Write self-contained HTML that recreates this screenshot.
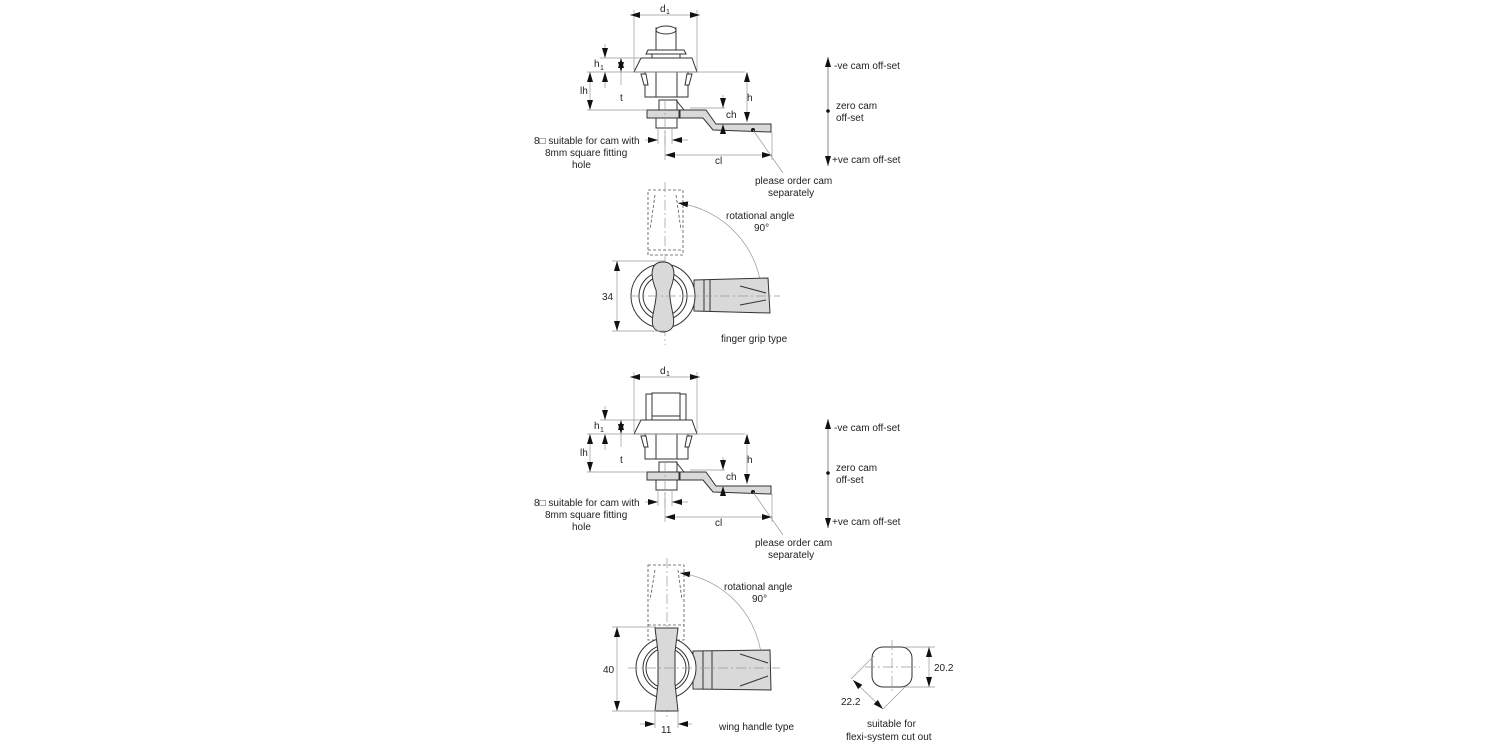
<!DOCTYPE html>
<html><head><meta charset="utf-8"><style>
html,body{margin:0;padding:0;background:#fff;width:1500px;height:750px;overflow:hidden}
svg{display:block}
text{font-family:"Liberation Sans",sans-serif;font-size:10px;fill:#222}
.o{fill:none;stroke:#333;stroke-width:1}
.f{fill:#d9d9d9;stroke:#333;stroke-width:1}
.w{fill:#fff;stroke:#333;stroke-width:1}
.d{fill:none;stroke:#999;stroke-width:0.7}
.ds{fill:none;stroke:#555;stroke-width:0.8;stroke-dasharray:3 2}
.c{fill:none;stroke:#999;stroke-width:0.7;stroke-dasharray:10 3 2 3}
</style></head><body>
<svg width="1500" height="750" viewBox="0 0 1500 750" xmlns="http://www.w3.org/2000/svg">
<defs>
<marker id="a" viewBox="0 0 10 6" refX="10" refY="3" markerWidth="10" markerHeight="6" orient="auto-start-reverse" markerUnits="userSpaceOnUse"><path d="M0,0 L10,3 L0,6z" fill="#111"/></marker>
<g id="side">
 <!-- extension lines -->
 <line class="d" x1="634" y1="10" x2="634" y2="70"/><line class="d" x1="697" y1="10" x2="697" y2="70"/>
 <line class="d" x1="630" y1="15" x2="700" y2="15" marker-start="url(#a)" marker-end="url(#a)"/>
 <!-- body -->
 <path class="w" d="M641,58 L692,58 L697,72 L634,72 Z"/>
 <rect class="w" x="645" y="72" width="43" height="25"/>
 <rect class="w" x="656" y="72" width="21" height="25"/>
 <path class="w" d="M641,74 L646,74 L648,85 L644,85 Z"/><path class="w" d="M687,74 L692,74 L689,85 L685,85 Z"/>
 <rect class="f" x="647" y="110" width="32" height="8"/>
 <rect class="w" x="659" y="100" width="18" height="10"/>
 <path class="f" d="M680,110 L706,110 L716,124 L771,124 L771,132 L713,130 L703,118 L680,118 Z"/>
 <line class="o" x1="676" y1="100" x2="684" y2="110"/>
 <rect class="w" x="656" y="118" width="21" height="10"/>
 <line class="c" x1="665" y1="100" x2="665" y2="145"/>
 <circle cx="753" cy="130" r="2" fill="#111"/>
 <!-- dims -->
 <line class="d" x1="600" y1="58" x2="640" y2="58"/><line class="d" x1="587" y1="72" x2="745" y2="72"/>
 <line class="d" x1="587" y1="110" x2="647" y2="110"/>
 <line class="d" x1="605" y1="44" x2="605" y2="58" marker-end="url(#a)"/><line class="d" x1="605" y1="72" x2="605" y2="88" marker-start="url(#a)"/>
 <text x="594" y="67">h</text><text x="600" y="70" style="font-size:7px">1</text>
 <line class="d" x1="621" y1="58" x2="621" y2="72" marker-start="url(#a)" marker-end="url(#a)"/><line class="d" x1="621" y1="72" x2="621" y2="85"/>
 <text x="620" y="101">t</text>
 <line class="d" x1="590" y1="72" x2="590" y2="110" marker-start="url(#a)" marker-end="url(#a)"/><text x="580" y="94">lh</text>
 <line class="d" x1="747" y1="72" x2="747" y2="122" marker-start="url(#a)" marker-end="url(#a)"/><text x="747" y="101">h</text>
 <line class="d" x1="690" y1="108" x2="725" y2="108"/>
 <line class="d" x1="723" y1="95" x2="723" y2="108" marker-end="url(#a)"/><line class="d" x1="723" y1="124" x2="723" y2="132" marker-start="url(#a)"/>
 <text x="726" y="118">ch</text>
 <line class="d" x1="645" y1="140" x2="658" y2="140" marker-end="url(#a)"/><line class="d" x1="672" y1="140" x2="688" y2="140" marker-start="url(#a)"/>
 <line class="d" x1="658" y1="128" x2="658" y2="144"/><line class="d" x1="672" y1="128" x2="672" y2="144"/>
 <line class="d" x1="665" y1="130" x2="665" y2="160"/><line class="d" x1="772" y1="132" x2="772" y2="160"/>
 <line class="d" x1="665" y1="155" x2="772" y2="155" marker-start="url(#a)" marker-end="url(#a)"/>
 <text x="715" y="164">cl</text>
 <line class="d" x1="753" y1="130" x2="783" y2="173"/>
 <text x="534" y="144">8□ suitable for cam with</text>
 <text x="545" y="156">8mm square fitting</text>
 <text x="572" y="168">hole</text>
 <text x="755" y="184">please order cam</text>
 <text x="768" y="196">separately</text>
 <line class="d" x1="828" y1="57" x2="828" y2="166" marker-start="url(#a)" marker-end="url(#a)" style="stroke:#555"/>
 <circle cx="828" cy="111" r="1.8" fill="#111"/>
 <text x="834" y="69">-ve cam off-set</text>
 <text x="836" y="109">zero cam</text><text x="836" y="121">off-set</text>
 <text x="832" y="163">+ve cam off-set</text>
</g>
</defs>
<use href="#side"/>
<text x="660" y="12">d</text><text x="666" y="14" style="font-size:7px">1</text>
<!-- head top view 1 -->
<rect class="w" x="656" y="28" width="20" height="24"/><ellipse class="w" cx="666" cy="30" rx="10" ry="4"/>
<path class="w" d="M648,50 L684,50 L686,54 L646,54 Z"/>
<rect class="w" x="652" y="54" width="28" height="4"/>

<g transform="translate(0,362)"><use href="#side"/></g>
<text x="660" y="374">d</text><text x="666" y="376" style="font-size:7px">1</text>
<rect class="w" x="646" y="394" width="40" height="26"/><rect class="w" x="652" y="393" width="28" height="27"/>
<rect class="w" x="652" y="416" width="28" height="4"/>

<!-- finger grip view -->
<path class="ds" d="M648,190 L683,190 L683,255 L648,255 Z M648,250 L683,250 M655,195 L650,230 M676,195 L681,230"/>
<line class="c" x1="665" y1="182" x2="665" y2="345"/>
<path class="d" d="M678,203 A97 97 0 0 1 762,298" marker-start="url(#a)" marker-end="url(#a)"/>
<path class="f" d="M694,280 L768,278 L770,313 L694,311 Z"/>
<line class="o" x1="704" y1="280" x2="704" y2="311"/><line class="o" x1="710" y1="280" x2="710" y2="311"/>
<line class="o" x1="740" y1="286" x2="766" y2="293"/><line class="o" x1="740" y1="305" x2="766" y2="300"/>
<circle class="w" cx="663" cy="296" r="32"/>
<circle class="o" cx="663" cy="296" r="24"/><circle class="o" cx="663" cy="296" r="20"/>
<path class="f" d="M663,262 C650,262 650,275 656,290 C658,300 650,318 653,326 C656,334 670,334 673,326 C676,318 668,300 670,290 C676,275 676,262 663,262 Z"/>
<line class="c" x1="630" y1="296" x2="780" y2="296"/>
<line class="d" x1="612" y1="261" x2="665" y2="261"/><line class="d" x1="612" y1="331" x2="665" y2="331"/>
<line class="d" x1="617" y1="261" x2="617" y2="331" marker-start="url(#a)" marker-end="url(#a)"/>
<text x="602" y="300">34</text>
<text x="726" y="219">rotational angle</text><text x="754" y="231">90°</text>
<text x="721" y="342">finger grip type</text>

<!-- wing view -->
<path class="ds" d="M648,565 L684,565 L684,640 L648,640 Z M648,625 L684,625 M655,570 L650,600 M678,570 L682,600"/>
<line class="c" x1="667" y1="558" x2="667" y2="720"/>
<path class="d" d="M680,573 A95 95 0 0 1 762,664" marker-start="url(#a)" marker-end="url(#a)"/>
<path class="f" d="M693,651 L770,650 L771,690 L693,689 Z"/>
<line class="o" x1="703" y1="651" x2="703" y2="689"/><line class="o" x1="712" y1="651" x2="712" y2="689"/>
<line class="o" x1="740" y1="654" x2="768" y2="663"/><line class="o" x1="740" y1="686" x2="768" y2="676"/>
<circle class="w" cx="666" cy="668" r="30"/>
<circle class="o" cx="666" cy="668" r="23"/><circle class="o" cx="666" cy="668" r="20"/>
<path class="f" d="M655,628 L678,628 L675,652 L675,684 L678,711 L655,711 L658,684 L658,652 Z"/>
<line class="c" x1="628" y1="668" x2="780" y2="668"/>
<line class="d" x1="612" y1="627" x2="656" y2="627"/><line class="d" x1="612" y1="711" x2="656" y2="711"/>
<line class="d" x1="617" y1="627" x2="617" y2="711" marker-start="url(#a)" marker-end="url(#a)"/>
<text x="603" y="673">40</text>
<line class="d" x1="640" y1="724" x2="655" y2="724" marker-end="url(#a)"/><line class="d" x1="678" y1="724" x2="692" y2="724" marker-start="url(#a)"/>
<line class="d" x1="655" y1="711" x2="655" y2="728"/><line class="d" x1="678" y1="711" x2="678" y2="728"/>
<text x="661" y="733">11</text>
<text x="724" y="590">rotational angle</text><text x="752" y="602">90°</text>
<text x="719" y="730">wing handle type</text>

<!-- cut out -->
<rect class="w" x="872" y="647" width="40" height="40" rx="11"/>
<line class="c" x1="892" y1="640" x2="892" y2="694"/><line class="c" x1="865" y1="667" x2="920" y2="667"/>
<line class="d" x1="905" y1="647" x2="935" y2="647"/><line class="d" x1="905" y1="687" x2="935" y2="687"/>
<line class="d" x1="929" y1="647" x2="929" y2="687" marker-start="url(#a)" marker-end="url(#a)"/>
<text x="934" y="671">20.2</text>
<line class="d" x1="874" y1="656" x2="851" y2="679"/><line class="d" x1="906" y1="686" x2="883" y2="709"/>
<line class="d" x1="853" y1="680" x2="883" y2="709" marker-start="url(#a)" marker-end="url(#a)"/>
<text x="841" y="705">22.2</text>
<text x="867" y="727">suitable for</text>
<text x="846" y="740">flexi-system cut out</text>
</svg>
</body></html>
